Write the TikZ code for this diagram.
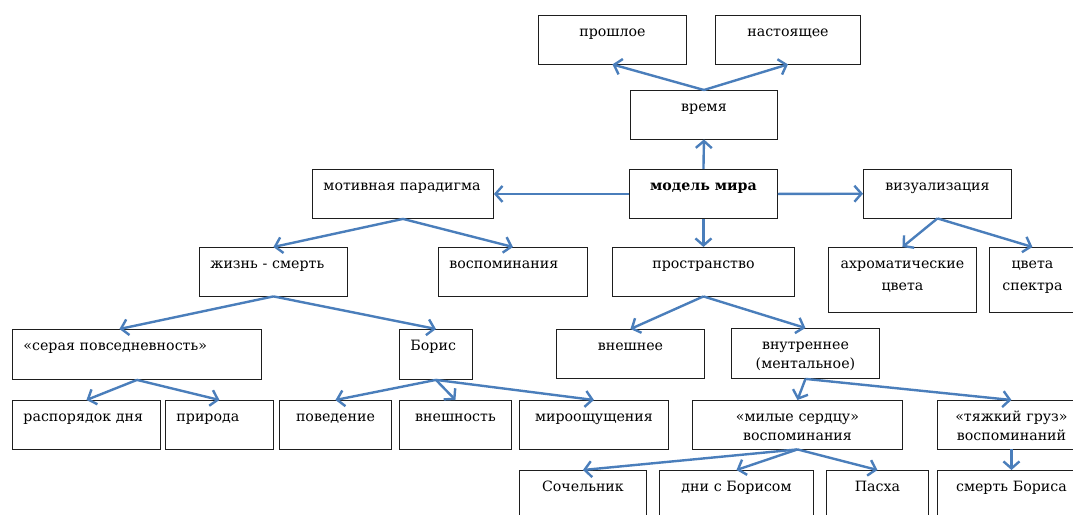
\documentclass[tikz,border=0pt]{standalone}
\usepackage{fontspec}
\setmainfont{DejaVu Serif}
\usetikzlibrary{arrows.meta,calc}
\definecolor{linkblue}{RGB}{74,126,187}
\definecolor{boxline}{RGB}{30,30,30}
\newcommand{\boxfont}{\fontsize{14.2}{19}\selectfont}
\tikzset{
  box/.style={draw=boxline, line width=0.9pt, anchor=north west,
    inner xsep=11pt, inner ysep=0pt, text height=21.5pt, text depth=27pt,
    align=center, font=\boxfont},
  lbox/.style={box, align=left},
  link/.style={linkblue, line width=2.4pt,
    -{Straight Barb[length=7pt,width=16pt]}}
}

\begin{document}
\begin{tikzpicture}[x=1pt,y=-1pt]
  \clip (0,0) rectangle (1073,514);
  \fill[white] (0,0) rectangle (1073,514);

  % Time branch
  \node[box,text width=126pt] (past) at (538,15) {прошлое};
  \node[box,text width=123pt] (present) at (715,15) {настоящее};
  \node[box,text width=125pt] (time) at (630,90) {время};

  % Middle row
  \node[box,text width=126pt,text depth=27.5pt,font=\boxfont\bfseries]
    (model) at (629,169) {модель мира};
  \node[lbox,text width=159pt,text depth=27.5pt] (motif) at (312,169)
    {мотивная парадигма};
  \node[box,text width=126pt] (visual) at (863,169) {визуализация};

  % Second level
  \node[lbox,text width=126pt] (life) at (199,247) {жизнь - смерть};
  \node[lbox,text width=127pt] (memories) at (438,247) {воспоминания};
  \node[box,text width=160pt] (space) at (612,247) {пространство};
  \node[box,text width=126pt,text depth=43.5pt] (achrom) at (828,247)
    {ахроматические\\[3pt]цвета};
  \node[box,text width=64pt,text depth=43.5pt] (spectrum) at (989,247)
    {цвета\\[3pt]спектра};

  % Third level
  \node[lbox,text width=227pt,text depth=28.5pt] (grey) at (12,329)
    {«серая повседневность»};
  \node[lbox,text width=51pt,text depth=28.5pt] (boris) at (399,329) {Борис};
  \node[box,text width=126pt] (outer) at (556,329) {внешнее};
  \node[box,text width=126pt,text depth=28.5pt] (inner) at (731,328)
    {внутреннее\\(ментальное)};

  % Fourth level
  \node[lbox,text width=126pt] (routine) at (12,400) {распорядок дня};
  \node[lbox,text width=86pt] (nature) at (165,400) {природа};
  \node[box,text width=90pt] (behavior) at (279,400) {поведение};
  \node[box,text width=90pt] (appearance) at (399,400) {внешность};
  \node[box,text width=127pt] (worldview) at (519,400) {мироощущения};
  \node[box,text width=188pt] (dear) at (692,400)
    {«милые сердцу»\\воспоминания};
  \node[box,text width=126pt] (burden) at (937,400)
    {«тяжкий груз»\\воспоминаний};

  % Bottom row
  \node[box,text width=105pt] (eve) at (519,470) {Сочельник};
  \node[box,text width=132pt] (days) at (659,470) {дни с Борисом};
  \node[box,text width=80pt] (easter) at (826,470) {Пасха};
  \node[box,text width=126pt] (death) at (937,470) {смерть Бориса};

  % Links
  \draw[link] (time.north) -- (past.south);
  \draw[link] (time.north) -- (present.south);
  \draw[link] (model.north) -- (time.south);
  \draw[link] (model.west) -- (motif.east);
  \draw[link] (model.east) -- (visual.west);
  \draw[link] (model.south) -- (space.north);
  \draw[link] (motif.south) -- (life.north);
  \draw[link] (motif.south) -- (memories.north);
  \draw[link] (visual.south) -- (achrom.north);
  \draw[link] (visual.south) -- (spectrum.north);
  \draw[link] (life.south) -- ($(grey.north west)!0.43!(grey.north east)$);
  \draw[link] (life.south) -- (boris.north);
  \draw[link] (grey.south) -- (routine.north);
  \draw[link] (grey.south) -- (nature.north);
  \draw[link] (boris.south) -- (behavior.north);
  \draw[link] (boris.south) -- (appearance.north);
  \draw[link] (boris.south) -- (worldview.north);
  \draw[link] (space.south) -- (outer.north);
  \draw[link] (space.south) -- (inner.north);
  \draw[link] (inner.south) -- (dear.north);
  \draw[link] (inner.south) -- (burden.north);
  \draw[link] (dear.south) -- (eve.north);
  \draw[link] (dear.south) -- (days.north);
  \draw[link] (dear.south) -- (easter.north);
  \draw[link] (burden.south) -- (death.north);
\end{tikzpicture}
\end{document}
